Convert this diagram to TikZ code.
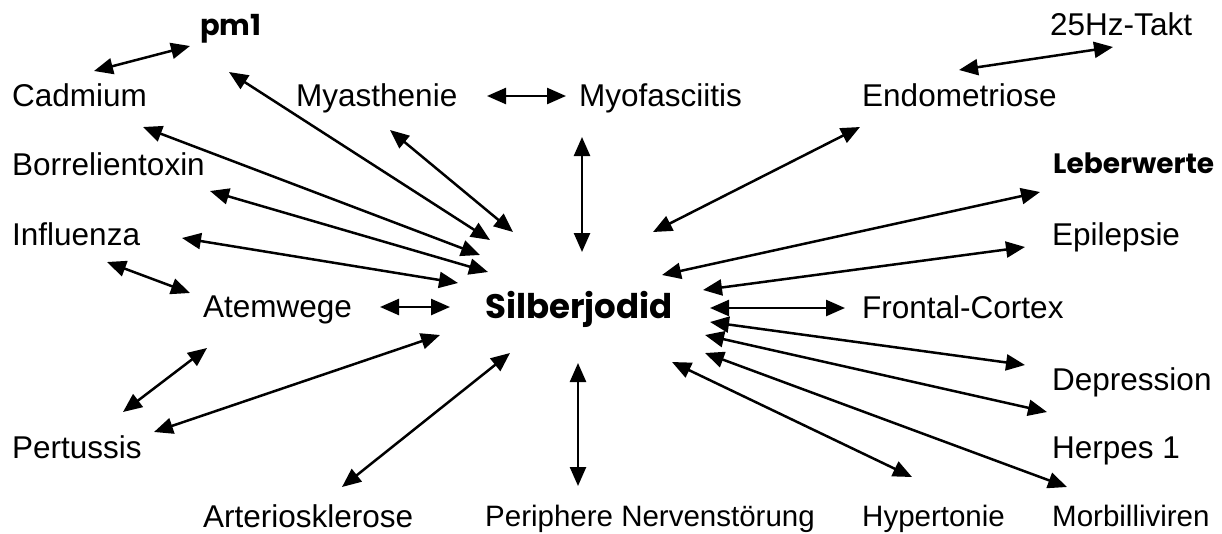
\documentclass[tikz,border=0pt]{standalone}
\usepackage{fontspec}
\setmainfont{Liberation Sans}
\newfontfamily\comicfont{Poppins}
\usetikzlibrary{arrows.meta}

\begin{document}
\begin{tikzpicture}[x=1pt, y=-1pt,
  link/.style={line width=2.5pt, {Triangle[length=19pt,width=16pt]}-{Triangle[length=19pt,width=16pt]}},
  term/.style={anchor=base west, inner sep=0pt, font=\fontsize{31.5}{36}\selectfont},
  small/.style={anchor=base west, inner sep=0pt, font=\fontsize{29.5}{34}\selectfont},
  key/.style={anchor=base west, inner sep=0pt, font=\comicfont\bfseries\fontsize{29}{34}\selectfont}
]
\useasboundingbox (0,0) rectangle (1222,533);

%% terms
\node[key] (pm) at (200,35) {pm1};
\node[term] (cadmium) at (12,106) {Cadmium};
\node[term] (myasth) at (296,106) {Myasthenie};
\node[term] (myofas) at (579,106) {Myofasciitis};
\node[term] (endo) at (862,106) {Endometriose};
\node[term] (takt) at (1050,35) {25Hz-Takt};
\node[term] (borrel) at (12,175) {Borrelientoxin};
\node[key, font=\comicfont\bfseries\fontsize{28}{34}\selectfont] (leber) at (1053,173) {Leberwerte};
\node[term] (influ) at (12,245) {Influenza};
\node[term] (epil) at (1052,245) {Epilepsie};
\node[term] (atem) at (203,317) {Atemwege};
\node[key, font=\comicfont\bfseries\fontsize{34}{40}\selectfont] (silber) at (485,318) {Silberjodid};
\node[term] (frontal) at (862,318) {Frontal-Cortex};
\node[term] (depr) at (1052,390) {Depression};
\node[term] (pertus) at (12,458) {Pertussis};
\node[term] (herpes) at (1052,458) {Herpes 1};
\node[term] (arterio) at (203,527) {Arteriosklerose};
\node[small] (periph) at (485,526) {Periphere Nervenstörung};
\node[small] (hyper) at (862,526) {Hypertonie};
\node[small] (morbil) at (1052,526) {Morbilliviren};

%% ends near the terms
\coordinate (pm-cd) at (190,46);
\coordinate (cd-pm) at (94,71);
\coordinate (pm-s) at (229,72);
\coordinate (cd-s) at (143,127);
\coordinate (bo-s) at (210,191);
\coordinate (in-s) at (182,238);
\coordinate (in-at) at (107,262);
\coordinate (at-in) at (190,293);
\coordinate (at-s) at (380,307);
\coordinate (at-pe) at (207,348);
\coordinate (pe-at) at (123,412);
\coordinate (pe-s) at (154,432);
\coordinate (ar-s) at (342,487);
\coordinate (pn-s) at (578,486);
\coordinate (mf-s) at (582,137);
\coordinate (ma-s) at (390,130);
\coordinate (ma-mf) at (487,96);
\coordinate (mf-ma) at (566,96);
\coordinate (en-s) at (860,127);
\coordinate (en-tk) at (959,70);
\coordinate (tk-en) at (1113,47);
\coordinate (lw-s) at (1040,192);
\coordinate (ep-s) at (1025,247);
\coordinate (fc-s) at (845,308);
\coordinate (dp-s) at (1025,365);
\coordinate (hp-s) at (1047,412);
\coordinate (mb-s) at (1067,487);
\coordinate (ht-s) at (912,477);

%% ends near Silberjodid
\coordinate (s-pm) at (490,240);
\coordinate (s-cd) at (480,255);
\coordinate (s-bo) at (488,272);
\coordinate (s-in) at (458,283);
\coordinate (s-at) at (450,307);
\coordinate (s-pe) at (440,335);
\coordinate (s-ar) at (510,353);
\coordinate (s-pn) at (578,363);
\coordinate (s-mf) at (582,252);
\coordinate (s-ma) at (513,232);
\coordinate (s-en) at (653,232);
\coordinate (s-lw) at (662,275);
\coordinate (s-ep) at (703,290);
\coordinate (s-fc) at (710,308);
\coordinate (s-dp) at (710,322);
\coordinate (s-hp) at (705,335);
\coordinate (s-mb) at (705,353);
\coordinate (s-ht) at (672,362);

%% links
\draw[link] (cd-pm) -- (pm-cd);
\draw[link] (pm-s) -- (s-pm);
\draw[link] (cd-s) -- (s-cd);
\draw[link] (bo-s) -- (s-bo);
\draw[link] (in-s) -- (s-in);
\draw[link] (in-at) -- (at-in);
\draw[link] (at-s) -- (s-at);
\draw[link] (at-pe) -- (pe-at);
\draw[link] (pe-s) -- (s-pe);
\draw[link] (ar-s) -- (s-ar);
\draw[link] (pn-s) -- (s-pn);
\draw[link] (mf-s) -- (s-mf);
\draw[link] (ma-s) -- (s-ma);
\draw[link] (ma-mf) -- (mf-ma);
\draw[link] (en-s) -- (s-en);
\draw[link] (en-tk) -- (tk-en);
\draw[link] (lw-s) -- (s-lw);
\draw[link] (ep-s) -- (s-ep);
\draw[link] (fc-s) -- (s-fc);
\draw[link] (dp-s) -- (s-dp);
\draw[link] (hp-s) -- (s-hp);
\draw[link] (mb-s) -- (s-mb);
\draw[link] (ht-s) -- (s-ht);
\end{tikzpicture}
\end{document}
